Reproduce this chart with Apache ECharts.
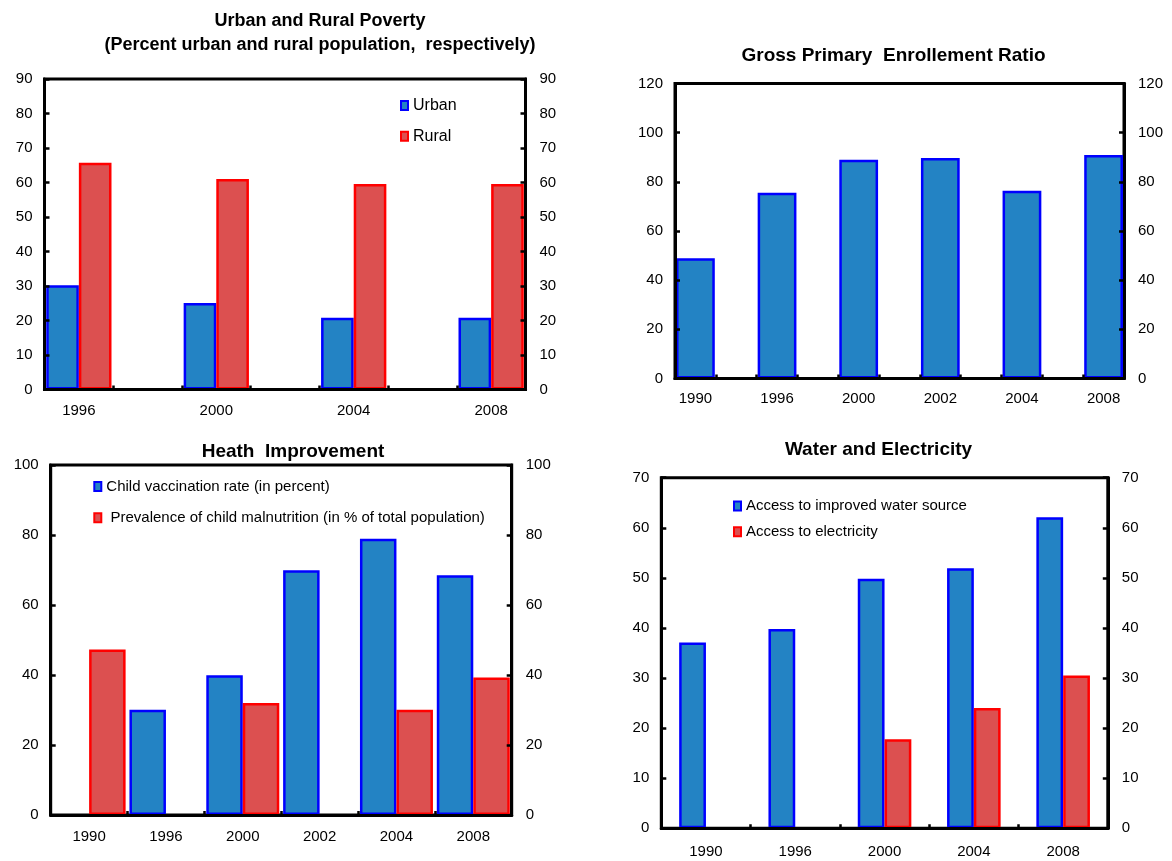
<!DOCTYPE html>
<html>
<head>
<meta charset="utf-8">
<script src="https://cdn.jsdelivr.net/npm/echarts@6/dist/echarts.min.js"></script>
<style>
  html, body { margin: 0; padding: 0; background: #ffffff; }
  #chart { width: 1172px; height: 861px; }
</style>
</head>
<body>
<div id="chart"></div>
<script>
// ---- Urban and rural poverty (percent of population) ----
const povertyYears = ['1996', '2000', '2004', '2008'];
const urbanPoverty = [30.2, 25.1, 20.8, 20.8];
const ruralPoverty = [65.7, 61.0, 59.6, 59.6];

// ---- Gross primary enrollment ratio ----
const enrollYears = ['1990', '1996', '2000', '2002', '2004', '2008'];
const enrollRatio = [48.9, 75.6, 89.0, 89.7, 76.4, 90.9];

// ---- Health improvement ----
const healthYears = ['1990', '1996', '2000', '2002', '2004', '2008'];
const vaccinationRate = [null, 30.1, 39.9, 69.9, 78.9, 68.5];
const childMalnutrition = [47.3, null, 32.0, null, 30.1, 39.3];

// ---- Water and electricity ----
const utilityYears = ['1990', '1996', '2000', '2004', '2008'];
const waterAccess = [37.1, 39.8, 49.8, 51.9, 62.1];
const electricityAccess = [null, null, 17.8, 24.0, 30.5];

// ---- Value-axis ranges [max, step] ----
const povertyAxis = [90, 10];
const enrollAxis = [120, 20];
const healthAxis = [100, 20];
const utilityAxis = [70, 10];

const FONT = "'Liberation Sans', Arial, Helvetica, sans-serif";
const TICK_SIZE = 15;
const LEGEND_SIZE = 15;

const BLUE_FILL = '#2383C4';
const BLUE_EDGE = '#0000FF';
const RED_FILL = '#DC5050';
const RED_EDGE = '#FF0000';

// Years on the first two charts sit in every other slot of the axis,
// with an empty slot between consecutive years.
function spaced(arr, filler) {
  const out = [];
  arr.forEach((v, i) => {
    out.push(v);
    if (i < arr.length - 1) out.push(filler);
  });
  return out;
}

const grids = [
  { left: 44.5, top: 79, width: 481, height: 310.5 },
  { left: 675, top: 83.5, width: 449, height: 295 },
  { left: 50.7, top: 465, width: 461, height: 350 },
  { left: 661.3, top: 477.7, width: 446.5, height: 350.6 }
].map(g => Object.assign({ show: true, borderColor: '#000', borderWidth: 3, backgroundColor: 'transparent' }, g));

function xAxis(gridIndex, data, margin) {
  return {
    type: 'category', gridIndex, data, z: 5,
    axisLine: { lineStyle: { color: '#000', width: 3 } },
    axisTick: { show: true, inside: true, length: 4, interval: 0, lineStyle: { color: '#000', width: 2.5 } },
    axisLabel: { interval: 0, margin, color: '#000', fontSize: TICK_SIZE, fontFamily: FONT, lineHeight: TICK_SIZE },
    splitLine: { show: false }
  };
}

function yAxis(gridIndex, range, position) {
  return {
    type: 'value', gridIndex, position, min: 0, max: range[0], interval: range[1], z: 5,
    axisLine: { show: true, lineStyle: { color: '#000', width: 3 } },
    axisTick: { show: true, inside: true, length: 5, lineStyle: { color: '#000', width: 2.5 } },
    axisLabel: { margin: position === 'left' ? 12 : 14, color: '#000', fontSize: TICK_SIZE, fontFamily: FONT },
    splitLine: { show: false }
  };
}

function bars(name, data, gi, fill, edge, categoryGap) {
  return {
    type: 'bar', name, data, xAxisIndex: gi, yAxisIndex: gi * 2,
    barGap: '0%', barCategoryGap: categoryGap,
    itemStyle: { color: fill, borderColor: edge, borderWidth: 2.5 },
    emphasis: { disabled: true }
  };
}

function legend(names, left, top, gap, fontSize) {
  return {
    orient: 'vertical', left, top, itemGap: gap, itemWidth: 7, itemHeight: 9,
    icon: 'rect', selectedMode: false, padding: 0,
    textStyle: { color: '#000', fontSize, lineHeight: 15, fontFamily: FONT },
    data: names
  };
}

function title(text, left, top, fontSize, lineHeight) {
  return {
    text, left, top, textAlign: 'center', padding: 0,
    textStyle: { color: '#000', fontSize, fontWeight: 'bold', fontFamily: FONT, lineHeight }
  };
}

const vaccName = 'Child vaccination rate (in percent)';
const malnName = ' Prevalence of child malnutrition (in % of total population)';
const waterName = 'Access to improved water source';
const elecName = 'Access to electricity';

const option = {
  animation: false,
  backgroundColor: '#ffffff',
  textStyle: { fontFamily: FONT },
  title: [
    title('Urban and Rural Poverty\n(Percent urban and rural population,  respectively)', 320, 9, 18, 24),
    title('Gross Primary  Enrollement Ratio', 893.5, 46, 19, 20),
    title('Heath  Improvement', 293, 441.7, 19, 20),
    title('Water and Electricity', 878.5, 439.3, 19, 20)
  ],
  legend: [
    legend(['Urban', 'Rural'], 400, 97.5, 14.7, 16),
    legend([vaccName, malnName], 93.3, 479, 16.3, LEGEND_SIZE),
    legend([waterName, elecName], 733, 498.5, 10.7, LEGEND_SIZE)
  ],
  grid: grids,
  xAxis: [
    xAxis(0, spaced(povertyYears, ''), 14),
    xAxis(1, spaced(enrollYears, ''), 13),
    xAxis(2, healthYears, 14),
    xAxis(3, utilityYears, 16)
  ],
  yAxis: [
    yAxis(0, povertyAxis, 'left'), yAxis(0, povertyAxis, 'right'),
    yAxis(1, enrollAxis, 'left'), yAxis(1, enrollAxis, 'right'),
    yAxis(2, healthAxis, 'left'), yAxis(2, healthAxis, 'right'),
    yAxis(3, utilityAxis, 'left'), yAxis(3, utilityAxis, 'right')
  ],
  series: [
    bars('Urban', spaced(urbanPoverty, null), 0, BLUE_FILL, BLUE_EDGE, '5%'),
    bars('Rural', spaced(ruralPoverty, null), 0, RED_FILL, RED_EDGE, '5%'),
    bars('Gross primary enrollment ratio', spaced(enrollRatio, null), 1, BLUE_FILL, BLUE_EDGE, '5%'),
    bars(vaccName, vaccinationRate, 2, BLUE_FILL, BLUE_EDGE, '5%'),
    bars(malnName, childMalnutrition, 2, RED_FILL, RED_EDGE, '5%'),
    bars(waterName, waterAccess, 3, BLUE_FILL, BLUE_EDGE, '40%'),
    bars(elecName, electricityAccess, 3, RED_FILL, RED_EDGE, '40%')
  ]
};

const chart = echarts.init(document.getElementById('chart'), null, { renderer: 'canvas' });
chart.setOption(option);
</script>
</body>
</html>
